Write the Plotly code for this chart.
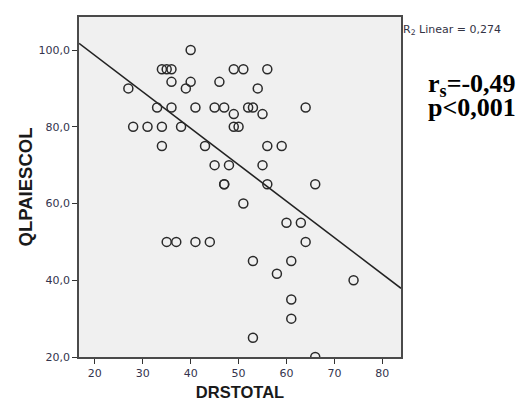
import plotly.graph_objects as go

# Data
drstotal = [27, 28, 31, 33, 34, 35, 36, 34, 34, 36,
            36, 35, 37, 38, 39, 40, 40, 41, 41, 43,
            44, 45, 45, 46, 47, 47, 47, 48, 49, 49,
            49, 50, 51, 51, 52, 53, 53, 53, 54, 55,
            55, 56, 56, 56, 58, 59, 60, 61, 61, 61,
            63, 64, 64, 66, 66, 74]
qlpaiescol = [90, 80, 80, 85, 95, 95, 95, 80, 75, 91.7,
              85, 50, 50, 80, 90, 100, 91.7, 85, 50, 75,
              50, 85, 70, 91.7, 85, 65, 65, 70, 95, 83.3,
              80, 80, 95, 60, 85, 85, 45, 25, 90, 83.3,
              70, 95, 75, 65, 41.7, 75, 55, 45, 35, 30,
              55, 85, 50, 65, 20, 40]

# Fit line (linear, R2 = 0.274) endpoints across the x range
fit_x = [16.7, 83.9]
fit_y = [101.75, 37.9]

x_ticks = [20, 30, 40, 50, 60, 70, 80]
y_ticks = [20, 40, 60, 80, 100]
y_tick_labels = ["20,0", "40,0", "60,0", "80,0", "100,0"]

x_range = [16.7, 83.9]
y_range = [20, 108.6]

fig = go.Figure()
fig.add_trace(go.Scatter(
    x=fit_x, y=fit_y, mode="lines",
    line=dict(color="#222222", width=1.5),
    showlegend=False, hoverinfo="skip"))
fig.add_trace(go.Scatter(
    x=drstotal, y=qlpaiescol, mode="markers",
    marker=dict(symbol="circle-open", size=9, color="#2a2a2a",
                line=dict(width=1.5, color="#2a2a2a")),
    showlegend=False))

axis_font = dict(family="DejaVu Sans", size=11, color="#33334d")
fig.update_xaxes(
    range=x_range, tickvals=x_ticks, ticks="outside", ticklen=5,
    tickcolor="#333333", tickwidth=1.2, automargin=False,
    showline=True, linecolor="#4a4a4a", linewidth=1.5, mirror=True,
    showgrid=False, zeroline=False, tickfont=axis_font,
    title=dict(text="<b>DRSTOTAL</b>", standoff=9,
               font=dict(family="Liberation Sans", size=16.5, color="#1a1a1a")))
fig.update_yaxes(
    range=y_range, tickvals=y_ticks, ticktext=y_tick_labels,
    ticks="outside", ticklen=5, tickcolor="#333333", tickwidth=1.2,
    automargin=False,
    showline=True, linecolor="#4a4a4a", linewidth=1.5, mirror=True,
    showgrid=False, zeroline=False, tickfont=axis_font,
    title=dict(text="<b>QLPAIESCOL</b>", standoff=1,
               font=dict(family="Liberation Sans", size=18.5, color="#1a1a1a")))

fig.add_annotation(
    text="R<sub>2</sub> Linear = 0,274", xref="paper", yref="paper",
    x=1.0, y=0.962, xanchor="left", yanchor="middle", xshift=0,
    showarrow=False, font=dict(family="DejaVu Sans", size=11, color="#333344"))
fig.add_annotation(
    text="<b>r<sub>s</sub>=-0,49</b>", xref="paper", yref="paper",
    x=1.0, y=0.80, xanchor="left", yanchor="middle", xshift=25,
    showarrow=False, font=dict(family="Liberation Serif", size=26, color="#000000"))
fig.add_annotation(
    text="<b>p<0,001</b>", xref="paper", yref="paper",
    x=1.0, y=0.733, xanchor="left", yanchor="middle", xshift=25,
    showarrow=False, font=dict(family="Liberation Serif", size=26, color="#000000"))

fig.update_layout(
    width=518, height=401,
    margin=dict(l=79, r=117, t=17, b=44),
    plot_bgcolor="#f0f0f0", paper_bgcolor="#ffffff")

fig.write_html("out.html", config={"displayModeBar": False},
               post_script="document.body.style.margin='0';document.body.style.padding='0';")
